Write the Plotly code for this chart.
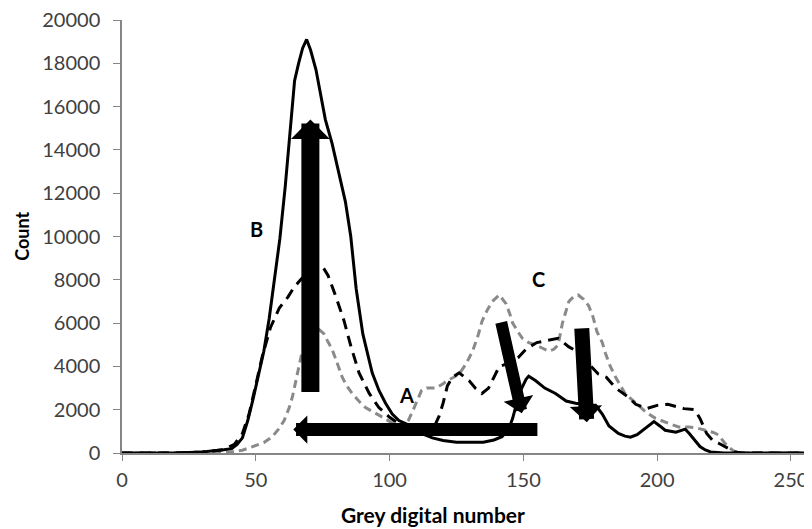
import plotly.graph_objects as go

# ---- data ----
solid_x = [0, 10, 20, 30, 35, 38, 41, 43, 45, 47, 49, 51, 53, 55, 57, 59, 61, 63, 64.5, 66, 67.5, 69,
           70.5, 72.5, 75, 76, 78.5, 81, 83.5, 85.5, 87.5, 90, 93.5, 96, 98.5, 101, 103.5, 107, 110,
           113, 116, 120, 125, 130, 135, 139, 142, 144.5, 146, 147.5, 149, 151, 152, 154.5, 158, 162,
           166, 169.5, 172, 175, 177, 179.5, 182, 185.5, 188, 190, 192.5, 195, 198.8, 201, 203, 207,
           210.5, 212, 214, 216, 218, 220, 225, 240, 255]
solid_y = [0, 0, 0, 50, 100, 150, 200, 400, 700, 1500, 2500, 3600, 4700, 6200, 8000, 9900, 12300, 15300,
           17200, 18000, 18700, 19100, 18600, 17700, 16100, 15400, 14300, 13000, 11600, 10000, 7600,
           5500, 3700, 2900, 2300, 1800, 1500, 1300, 1050, 850, 700, 580, 500, 500, 500, 600, 750, 1100,
           1600, 2300, 2900, 3400, 3550, 3350, 3000, 2750, 2400, 2300, 2250, 2200, 2200, 1800, 1250,
           900, 780, 730, 850, 1100, 1450, 1250, 1050, 960, 1100, 900, 600, 300, 140, 50, 0, 0, 0]

black_dash_x = [0, 10, 20, 30, 38, 42, 45, 47.5, 50, 52.5, 55.5, 58.8, 62, 64, 66, 69, 72, 74, 75.5, 77,
                80, 83, 85.6, 88.6, 92.4, 96, 100, 104, 108, 112, 115, 117, 118.5, 120, 121.6, 123.5,
                126, 129.7, 132, 134.5, 137, 139, 141, 143.5, 146, 148, 151, 155, 159, 163, 165, 167,
                170, 173, 176, 178, 181, 184.5, 189, 192, 196, 200, 204, 207, 210, 214, 216, 218.5,
                221, 223, 226, 229, 232, 255]
black_dash_y = [0, 0, 0, 50, 150, 400, 900, 1800, 3100, 4500, 5800, 6700, 7200, 7600, 7900, 8300, 8600,
                8700, 8500, 8200, 7200, 6100, 4900, 3700, 2750, 2100, 1650, 1300, 1050, 1000, 1050,
                1300, 1700, 2300, 3100, 3500, 3700, 3350, 3000, 2750, 3000, 3500, 4000, 4100, 4300,
                4400, 4800, 5100, 5200, 5300, 5100, 4900, 4700, 4300, 3900, 3650, 3500, 3000, 2600,
                2250, 2050, 2200, 2250, 2150, 2050, 2000, 1600, 900, 550, 450, 230, 50, 0, 0]

grey_dash_x = [0, 20, 35, 40, 45, 48.8, 53, 56, 58.5, 60.6, 62.5, 63.7, 65.5, 67, 69, 71, 73.7, 75.5,
               76.7, 78.5, 80, 82.3, 84, 86, 88.5, 91, 96, 101, 103.5, 105.5, 107, 108.5, 110, 112,
               114, 117.4, 120, 121.6, 124, 126, 128.5, 131, 133, 134.6, 136.5, 138.4, 141, 143.5, 145,
               146, 148, 149.6, 152, 154.6, 157, 159.5, 161.5, 163, 164.6, 166, 167, 169, 170.5, 172.5,
               174.4, 176, 177.5, 179.5, 180.7, 182.5, 184.5, 188, 192, 195.7, 199.4, 204, 208, 211.8,
               215, 218, 221, 223, 225, 226.7, 228.5, 231, 240, 255]
grey_dash_y = [0, 0, 0, 30, 130, 280, 480, 730, 1100, 1500, 2100, 2600, 3700, 4500, 5100, 5500, 5700,
               5500, 5200, 4800, 4300, 3500, 3100, 2750, 2400, 2100, 1750, 1400, 1200, 1250, 1500, 1900,
               2300, 2900, 3000, 3000, 3200, 3350, 3500, 3650, 4100, 4700, 5400, 6100, 6600, 7000, 7300,
               6900, 6400, 6000, 5600, 5300, 5100, 5000, 4850, 4700, 4800, 5000, 6000, 6600, 7000, 7250,
               7300, 7100, 6800, 6300, 5600, 5100, 4600, 4000, 3500, 2750, 2300, 1900, 1600, 1380, 1200,
               1200, 1150, 1050, 950, 830, 500, 280, 100, 0, 0, 0]

x_ticks = [0, 50, 100, 150, 200, 250]
y_ticks = [0, 2000, 4000, 6000, 8000, 10000, 12000, 14000, 16000, 18000, 20000]
y_tick_text = [str(v) for v in y_ticks]

# arrows: tail -> tip (data coordinates), shaft width
arrow_tail_x = [70.4, 155.8, 141.6, 171.8]
arrow_tail_y = [2750, 1080, 6100, 5830]
arrow_tip_x = [70.4, 64.0, 149.4, 173.7]
arrow_tip_y = [15400, 1080, 1840, 1420]
arrow_width = [18, 13, 12, 15]
arrow_size = [0.36, 0.36, 0.42, 0.36]

label_text = ["B", "A", "C"]
label_x = [50.2, 106.5, 155.8]
label_y = [10330, 2660, 8030]

x_title = "Grey digital number"
y_title = "Count"

FONT = "Lato"

fig = go.Figure()
fig.add_trace(go.Scatter(x=grey_dash_x, y=grey_dash_y, mode="lines",
                         line=dict(color="#8a8a8a", width=3, dash="8px,5px")))
fig.add_trace(go.Scatter(x=black_dash_x, y=black_dash_y, mode="lines",
                         line=dict(color="#000000", width=3, dash="11px,7px")))
fig.add_trace(go.Scatter(x=solid_x, y=solid_y, mode="lines",
                         line=dict(color="#000000", width=3)))

for tx, ty, hx, hy, w, s in zip(arrow_tail_x, arrow_tail_y, arrow_tip_x, arrow_tip_y,
                                arrow_width, arrow_size):
    fig.add_annotation(x=hx, y=hy, ax=tx, ay=ty, xref="x", yref="y", axref="x", ayref="y",
                       text="", showarrow=True, arrowhead=1, arrowsize=s, arrowwidth=w,
                       arrowcolor="#000000", standoff=0, startstandoff=0)

for t, lx, ly in zip(label_text, label_x, label_y):
    fig.add_annotation(x=lx, y=ly, xref="x", yref="y", text="<b>%s</b>" % t, showarrow=False,
                       font=dict(family=FONT, size=20, color="#000000"))

fig.add_annotation(x=0.454, y=-0.143, xref="paper", yref="paper", text="<b>%s</b>" % x_title,
                   showarrow=False, xanchor="center", yanchor="middle",
                   font=dict(family=FONT, size=21, color="#000000"))
fig.add_annotation(x=-0.147, y=0.5, xref="paper", yref="paper", text="<b>%s</b>" % y_title,
                   showarrow=False, xanchor="center", yanchor="middle", textangle=-90,
                   font=dict(family=FONT, size=18, color="#000000"))

# the page body adds an 8px offset, so the figure is 8px smaller and margins shifted
fig.update_layout(
    width=804, height=521,
    margin=dict(l=114, r=5, t=12, b=76),
    paper_bgcolor="white", plot_bgcolor="white",
    showlegend=False,
    font=dict(family=FONT, size=20, color="#404040"),
)
fig.update_xaxes(range=[0, 256], tickvals=x_ticks, ticks="outside", ticklen=6, tickcolor="#868686",
                 showline=True, linecolor="#868686", linewidth=1.5, showgrid=False, zeroline=False,
                 automargin=False, ticklabelstandoff=2, ticklabeloverflow="allow",
                 tickfont=dict(family=FONT, size=20, color="#404040"))
fig.update_yaxes(range=[0, 20000], tickvals=y_ticks, ticktext=y_tick_text, ticks="outside", ticklen=7,
                 tickcolor="#868686", showline=True, linecolor="#868686", linewidth=1.5,
                 showgrid=False, zeroline=False, automargin=False, ticklabelstandoff=9,
                 ticklabeloverflow="allow",
                 tickfont=dict(family=FONT, size=20, color="#404040"))

fig.write_html("out.html")
